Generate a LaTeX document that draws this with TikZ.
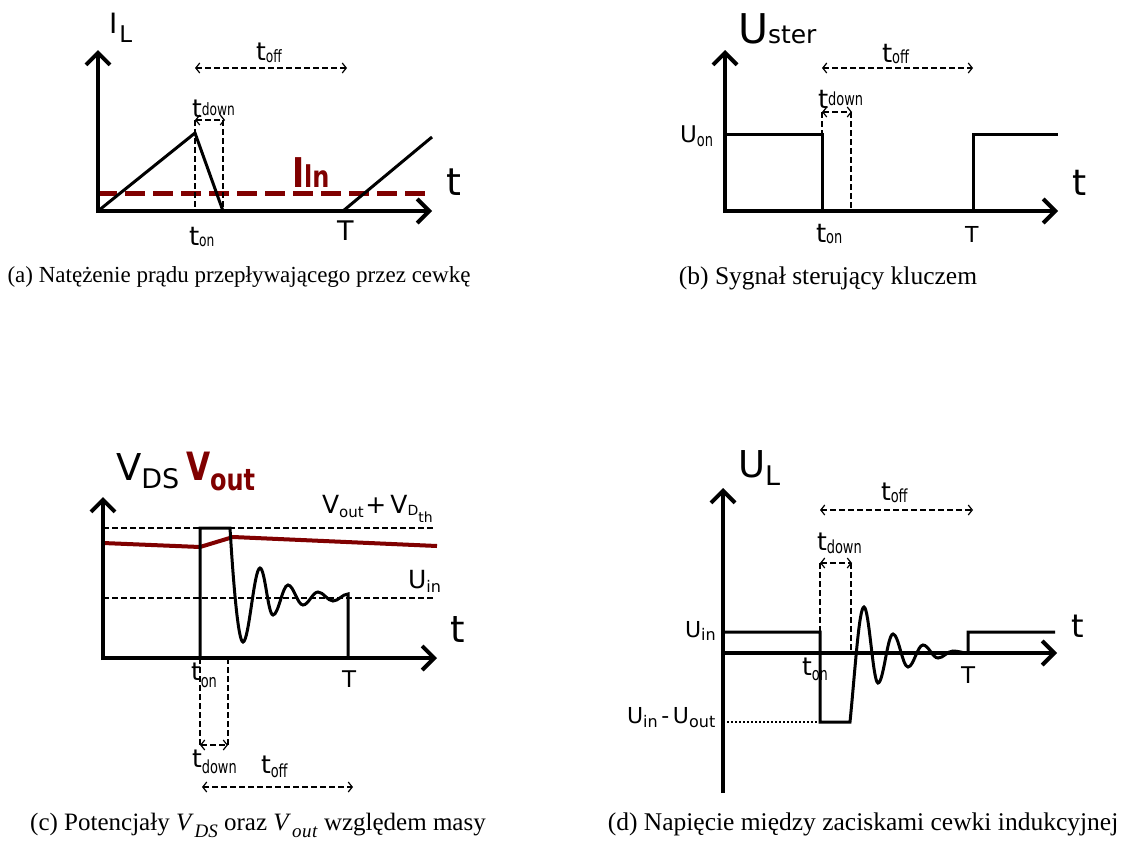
\documentclass[tikz,border=0pt]{standalone}
\usepackage{fontspec}
\usepackage{graphicx}
\setmainfont{Liberation Serif}
\newfontfamily\dv{DejaVu Sans}
\usetikzlibrary{arrows.meta}
\definecolor{dred}{RGB}{128,0,0}
\newcommand\fs[1]{\fontsize{#1}{#1}\selectfont}
\newcommand\lb[5]{{\fs{#1}#2}\raisebox{-#4pt}{\fs{#3}#5}}
\newcommand\lbn[5]{{\fs{#1}#2}\raisebox{-#4pt}{\scalebox{0.72}[1]{\fs{#3}#5}}}
\tikzset{
  every node/.style={inner sep=0pt, outer sep=0pt, font=\dv},
  lbl/.style={anchor=base west},
  captxt/.style={anchor=base, font=\rmfamily},
  axis/.style={line width=4pt, -{Straight Barb[length=12pt,width=24pt]}},
  axisn/.style={line width=4pt},
  sig/.style={line width=3pt, line join=miter},
  dsh/.style={line width=1.2pt, dash pattern=on 6pt off 3pt},
  dimarr/.style={dsh, {Straight Barb[length=4pt,width=10pt]}-{Straight Barb[length=4pt,width=10pt]}},
  reddash/.style={line width=5pt, dred, dash pattern=on 20pt off 8pt},
  redline/.style={line width=4pt, dred, line join=round},
  dotln/.style={line width=1.2pt, dash pattern=on 2pt off 2pt}
}
\begin{document}
\begin{tikzpicture}[x=1pt,y=-1pt]
\useasboundingbox (0,0) rectangle (1132,841);
% ================= (a) =================
\draw[reddash] (97,193) -- (428,193);
\draw[axis] (98,213) -- (98,50);
\draw[axis] (96,211) -- (432,211);
\draw[sig] (98,211) -- (195,133) -- (223,211);
\draw[sig] (343,211) -- (432,137);
\draw[dsh] (195,120) -- (195,211);
\draw[dsh] (223,120) -- (223,211);
\draw[dimarr] (195,68) -- (347,68);
\draw[dimarr] (195,120) -- (225,120);
\node[lbl] (aIL) at (109,33) {\fs{28}I\kern2pt\raisebox{-9pt}{\fs{23}L}};
\node[lbl] (atoff) at (256,60) {\lbn{25}{t}{17}{2}{off}};
\node[lbl] (atdown) at (192,117) {\lbn{25}{t}{17}{-2}{down}};
\node[lbl] (aton) at (189,245) {\lbn{26}{t}{17}{1}{on}};
\node[lbl] (aT) at (337,240) {\fs{27}T};
\node[lbl] (at) at (446,195) {\fs{38}t};
\node[lbl, text=dred] (aIln) at (292,187) {\scalebox{0.8}[1]{\bfseries\fs{41}I\fs{30}ln}};
\node[captxt, font=\rmfamily\fs{23}] (capa) at (239,282) {(a) Natężenie prądu przepływającego przez cewkę};
% ================= (b) =================
\draw[axis] (725,213) -- (725,50);
\draw[axis] (723,211) -- (1058,211);
\draw[sig] (725,134) -- (822,134) -- (822,211);
\draw[sig] (973,211) -- (973,134) -- (1058,134);
\draw[dsh] (822,112) -- (822,134);
\draw[dsh] (851,112) -- (851,211);
\draw[dimarr] (822,68) -- (973,68);
\draw[dimarr] (822,112) -- (852,112);
\node[lbl] (bU) at (738,43) {\lb{41}{U}{25}{0}{ster}};
\node[lbl] (btoff) at (882,62) {\lbn{26}{t}{18}{1}{off}};
\node[lbl] (btdown) at (818,108) {\lbn{26}{t}{18}{-3}{down}};
\node[lbl] (bUon) at (680,142) {\lbn{23}{U}{18}{4}{on}};
\node[lbl] (bton) at (816,242) {\lbn{26}{t}{18}{1}{on}};
\node[lbl] (bT) at (965,242) {\fs{22}T};
\node[lbl] (bt) at (1072,195) {\fs{36}t};
\node[captxt, font=\rmfamily\fs{25.5}] (capb) at (828,284) {(b) Sygnał sterujący kluczem};
% ================= (c) =================
\draw[dsh] (103,528) -- (435,528);
\draw[dsh] (103,598) -- (435,598);
\draw[redline] (103,543) -- (200,547) -- (233,537) -- (437,546);
\draw[axis] (103,660) -- (103,497);
\draw[axis] (101,658) -- (437,658);
\draw[sig] (200,658) -- (200,528) -- (230,528)
  .. controls +(3,50) and +(-5,0) .. (243,642)
  .. controls +(6,0) and +(-6,0) .. (260,568)
  .. controls +(5,0) and +(-5,0) .. (273,615)
  .. controls +(5.5,0) and +(-5.5,0) .. (288,585)
  .. controls +(5.5,0) and +(-5.5,0) .. (303,605)
  .. controls +(5.5,0) and +(-5.5,0) .. (318,592)
  .. controls +(5.5,0) and +(-5.5,0) .. (333,601)
  .. controls +(5.5,0) and +(-5.5,0) .. (348,594) -- (348,658);
\draw[dsh] (200,658) -- (200,747);
\draw[dsh] (228,658) -- (228,747);
\draw[dimarr] (200,745) -- (228,745);
\draw[dimarr] (202,787) -- (353,787);
\node[lbl] (cV) at (116,480) {\lb{37}{V}{27}{8}{DS}};
\node[lbl, text=dred] (cVout) at (186,480) {\scalebox{0.8}[1]{\bfseries\fs{39}V\raisebox{-10pt}{\fs{30}out}}};
\node[lbl] (cVD) at (322,513) {\lb{25}{V}{15}{4}{out}\,\fs{25}+\,V\raisebox{-2pt}{\fs{14}D\raisebox{-7pt}{th}}};
\node[lbl] (cUin) at (408,588) {\lb{25}{U}{16}{4}{in}};
\node[lbl] (cton) at (191,680) {\lbn{25}{t}{18}{7}{on}};
\node[lbl] (cT) at (342,687) {\fs{23}T};
\node[lbl] (ctdown) at (192,767) {\lbn{25}{t}{18}{6}{down}};
\node[lbl] (ctoff) at (261,773) {\lbn{25}{t}{18}{4}{off}};
\node[lbl] (ct) at (450,642) {\fs{37}t};
\node[captxt, font=\rmfamily\fs{25}] (capc) at (258,830) {(c) Potencjały \textit{V}\kern1pt\raisebox{-0.3em}{\fs{19}\textit{DS}} oraz \textit{V}\kern1pt\raisebox{-0.3em}{\fs{19}\textit{o\kern0.5pt u\kern0.5pt t}} względem masy};
% ================= (d) =================
\draw[dotln] (723,722) -- (820,722);
\draw[axisn] (723,793) -- (723,640);
\draw[axis] (723,650) -- (723,488);
\draw[axis] (721,653) -- (1057,653);
\draw[sig] (723,653) -- (723,632) -- (820,632) -- (820,722) -- (850,722)
  .. controls +(5,-50) and +(-5,0) .. (864,607)
  .. controls +(5,0) and +(-5,0) .. (878,683)
  .. controls +(5.5,0) and +(-5.5,0) .. (893,634)
  .. controls +(5.5,0) and +(-5.5,0) .. (908,667)
  .. controls +(5.5,0) and +(-5.5,0) .. (923,645)
  .. controls +(5.5,0) and +(-5.5,0) .. (938,658)
  .. controls +(5.5,0) and +(-5.5,0) .. (953,651)
  .. controls +(5.5,0) and +(-5.5,0) .. (968,653) -- (968,632) -- (1055,632);
\draw[dsh] (820,563) -- (820,653);
\draw[dsh] (851,563) -- (851,653);
\draw[dimarr] (820,510) -- (973,510);
\draw[dimarr] (820,563) -- (852,563);
\node[lbl] (dU) at (738,477) {\lb{37}{U}{27}{8}{L}};
\node[lbl] (dtoff) at (881,500) {\lbn{25}{t}{18}{2}{off}};
\node[lbl] (dtdown) at (817,550) {\lbn{25}{t}{18}{3}{down}};
\node[lbl] (dUin) at (685,637) {\lb{22}{U}{16}{3}{in}};
\node[lbl] (dUdiff) at (627,723) {\lb{22}{U}{16}{4}{in}\fs{22}\,-\,\lb{22}{U}{16}{4}{out}};
\node[lbl] (dton) at (802,675) {\lbn{25}{t}{18}{5}{on}};
\node[lbl] (dT) at (961,683) {\fs{23}T};
\node[lbl] (dt) at (1071,637) {\fs{32}t};
\node[captxt, font=\rmfamily\fs{25.5}] (capd) at (863,830) {(d) Napięcie między zaciskami cewki indukcyjnej};
\end{tikzpicture}
\end{document}
